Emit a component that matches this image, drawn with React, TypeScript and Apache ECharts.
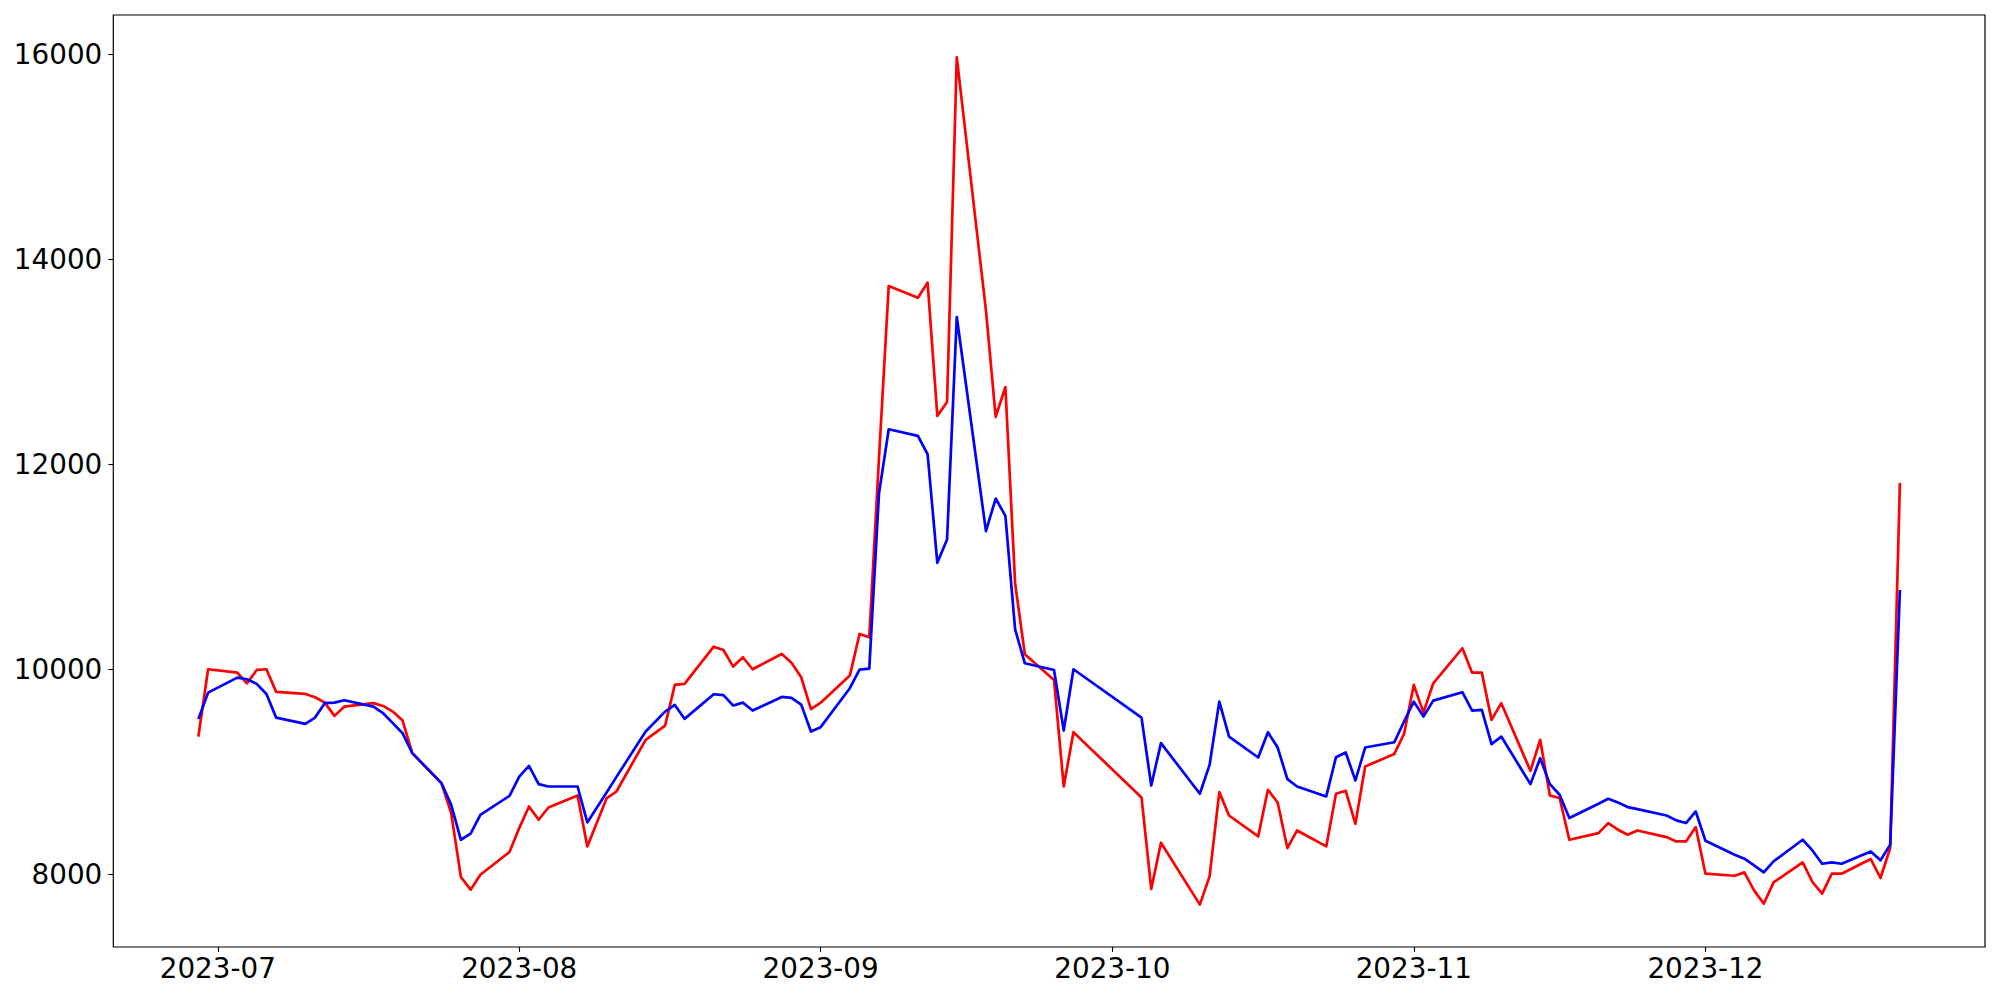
import React, { useEffect, useRef } from "react";
import * as echarts from "echarts";

const dates = [
  "2023-06-29", "2023-06-30", "2023-07-03", "2023-07-04", "2023-07-05", "2023-07-06", "2023-07-07",
  "2023-07-10", "2023-07-11", "2023-07-12", "2023-07-13", "2023-07-14",
  "2023-07-17", "2023-07-18", "2023-07-19", "2023-07-20", "2023-07-21",
  "2023-07-24", "2023-07-25", "2023-07-26", "2023-07-27", "2023-07-28",
  "2023-07-31", "2023-08-01", "2023-08-02", "2023-08-03", "2023-08-04",
  "2023-08-07", "2023-08-08", "2023-08-10", "2023-08-11",
  "2023-08-14", "2023-08-16", "2023-08-17", "2023-08-18",
  "2023-08-21", "2023-08-22", "2023-08-23", "2023-08-24", "2023-08-25",
  "2023-08-28", "2023-08-29", "2023-08-30", "2023-08-31", "2023-09-01",
  "2023-09-04", "2023-09-05", "2023-09-06", "2023-09-07", "2023-09-08",
  "2023-09-11", "2023-09-12", "2023-09-13", "2023-09-14", "2023-09-15",
  "2023-09-18", "2023-09-19", "2023-09-20", "2023-09-21", "2023-09-22",
  "2023-09-25", "2023-09-26", "2023-09-27",
  "2023-10-04", "2023-10-05", "2023-10-06",
  "2023-10-10", "2023-10-11", "2023-10-12", "2023-10-13",
  "2023-10-16", "2023-10-17", "2023-10-18", "2023-10-19", "2023-10-20",
  "2023-10-23", "2023-10-24", "2023-10-25", "2023-10-26", "2023-10-27",
  "2023-10-30", "2023-10-31", "2023-11-01", "2023-11-02", "2023-11-03",
  "2023-11-06", "2023-11-07", "2023-11-08", "2023-11-09", "2023-11-10",
  "2023-11-13", "2023-11-14", "2023-11-15", "2023-11-16", "2023-11-17",
  "2023-11-20", "2023-11-21", "2023-11-22", "2023-11-23", "2023-11-24",
  "2023-11-27", "2023-11-28", "2023-11-29", "2023-11-30", "2023-12-01",
  "2023-12-04", "2023-12-05", "2023-12-06", "2023-12-07", "2023-12-08",
  "2023-12-11", "2023-12-12", "2023-12-13", "2023-12-14", "2023-12-15",
  "2023-12-18", "2023-12-19", "2023-12-20", "2023-12-21",
];

const redValues = [
  9346, 10003, 9970, 9866, 9996, 10003, 9782,
  9762, 9730, 9677, 9548, 9638,
  9672, 9645, 9590, 9502, 9184,
  8892, 8599, 7976, 7852, 7998,
  8220, 8453, 8664, 8534, 8654,
  8771, 8274, 8746, 8810,
  9314, 9453, 9850, 9860,
  10223, 10191, 10029, 10120, 10003,
  10152, 10067, 9925, 9613, 9677,
  9941, 10347, 10315, 12064, 13742,
  13629, 13775, 12475, 12611, 15974,
  13505, 12465, 12757, 10841, 10149,
  9899, 8859, 9389,
  8752, 7859, 8310,
  7706, 7982, 8804, 8576,
  8372, 8827, 8703, 8258, 8430,
  8274, 8788, 8817, 8495, 9054,
  9177, 9372, 9850, 9580, 9866,
  10208, 9970, 9970, 9509, 9672,
  9012, 9314, 8771, 8746, 8339,
  8404, 8502, 8437, 8388, 8430,
  8365, 8323, 8323, 8463, 8008,
  7988, 8021, 7845, 7715, 7923,
  8118, 7927, 7813, 8008, 8008,
  8151, 7966, 8258, 11822,
];

const blueValues = [
  9516, 9775, 9921, 9905, 9860, 9762, 9531,
  9470, 9531, 9672, 9677, 9701,
  9638, 9574, 9477, 9379, 9184,
  8892, 8680, 8339, 8398, 8583,
  8768, 8956, 9060, 8882, 8859,
  8859, 8508, 8802, 8953,
  9395, 9590, 9655, 9519,
  9759, 9750, 9649, 9677, 9600,
  9733, 9723, 9658, 9395, 9438,
  9818, 10000, 10009, 11718, 12345,
  12280, 12101, 11042, 11270, 13440,
  11351, 11669, 11500, 10393, 10061,
  9996, 9405, 10003,
  9531, 8869, 9282,
  8788, 9070, 9687, 9346,
  9142, 9389, 9239, 8931, 8859,
  8762, 9145, 9191, 8918, 9239,
  9291, 9493, 9687, 9541, 9697,
  9779, 9600, 9606, 9272, 9346,
  8882, 9135, 8882, 8778, 8551,
  8690, 8739, 8703, 8658, 8638,
  8576, 8528, 8502, 8615, 8329,
  8193, 8154, 8089, 8021, 8128,
  8339, 8235, 8105, 8118, 8105,
  8225, 8138, 8290, 10776,
];

const monthTicks = ["2023-07", "2023-08", "2023-09", "2023-10", "2023-11", "2023-12"];
const yTicks = [8000, 10000, 12000, 14000, 16000];

function toTime(s: string): number {
  const parts = s.split("-").map(Number);
  return new Date(parts[0], parts[1] - 1, parts[2] || 1).getTime();
}

function fmtMonth(v: number): string {
  const d = new Date(v);
  return `${d.getFullYear()}-${String(d.getMonth() + 1).padStart(2, "0")}`;
}

export default function App() {
  const ref = useRef<HTMLDivElement>(null);

  useEffect(() => {
    if (!ref.current) return;
    const chart = echarts.init(ref.current, undefined, { renderer: "svg" });

    const times = dates.map(toTime);
    const tMin = Math.min(...times);
    const tMax = Math.max(...times);
    const tPad = (tMax - tMin) * 0.05;
    const allVals = redValues.concat(blueValues);
    const vMin = Math.min(...allVals);
    const vMax = Math.max(...allVals);
    const vPad = (vMax - vMin) * 0.05;
    const monthTimes = monthTicks.map(toTime);

    const font = {
      fontFamily: "DejaVu Sans",
      fontSize: 27.8,
      color: "#000000",
    };

    chart.setOption({
      animation: false,
      backgroundColor: "#ffffff",
      grid: {
        left: 113.3,
        right: 15,
        top: 15,
        bottom: 53,
        show: true,
        borderColor: "#000000",
        borderWidth: 1.2,
        backgroundColor: "transparent",
        outerBoundsMode: "none",
      },
      xAxis: {
        type: "value",
        min: tMin - tPad,
        max: tMax + tPad,
        scale: true,
        axisLine: { show: false },
        splitLine: { show: false },
        axisTick: {
          show: true,
          length: 4.9,
          lineStyle: { color: "#000000", width: 1.1 },
          customValues: monthTimes,
        },
        axisLabel: {
          ...font,
          margin: 7,
          customValues: monthTimes,
          formatter: (v: number) => fmtMonth(v),
        },
      },
      yAxis: {
        type: "value",
        min: vMin - vPad,
        max: vMax + vPad,
        scale: true,
        axisLine: { show: false },
        splitLine: { show: false },
        axisTick: {
          show: true,
          length: 4.9,
          lineStyle: { color: "#000000", width: 1.1 },
          customValues: yTicks,
        },
        axisLabel: {
          ...font,
          margin: 11,
          customValues: yTicks,
          formatter: (v: number) => String(v),
        },
      },
      series: [
        {
          type: "line",
          data: times.map((t, i) => [t, redValues[i]]),
          showSymbol: false,
          lineStyle: { color: "#ff0000", width: 2.7, join: "round", cap: "butt" },
          itemStyle: { color: "#ff0000" },
        },
        {
          type: "line",
          data: times.map((t, i) => [t, blueValues[i]]),
          showSymbol: false,
          lineStyle: { color: "#0000ff", width: 2.7, join: "round", cap: "butt" },
          itemStyle: { color: "#0000ff" },
        },
      ],
    });

    return () => chart.dispose();
  }, []);

  return (
    <div
      ref={ref}
      style={{ position: "fixed", left: 0, top: 0, width: 2000, height: 1000, background: "#ffffff" }}
    />
  );
}
